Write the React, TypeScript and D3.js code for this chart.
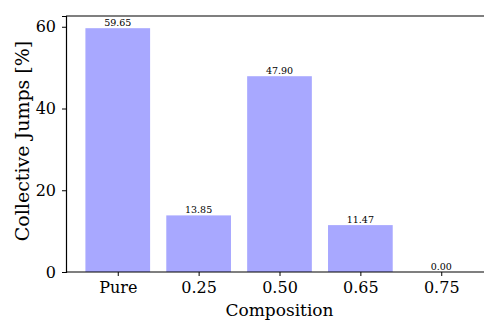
import React, { useRef, useEffect } from 'react';
import * as d3 from 'd3';

const categories = ['Pure', '0.25', '0.50', '0.65', '0.75'];
const values = [59.65, 13.85, 47.9, 11.47, 0.0];
const yTicks = [0, 20, 40, 60];

export default function App() {
  const ref = useRef<SVGSVGElement>(null);

  useEffect(() => {
    const svg = d3.select(ref.current);
    svg.selectAll('*').remove();

    const width = 484;
    const height = 320;
    const margin = { top: 16, right: -9, bottom: 48, left: 66 };
    const font = 'DejaVu Serif';

    const x = d3
      .scaleLinear()
      .domain([-0.64, categories.length - 1 + 0.64])
      .range([margin.left, width - margin.right]);

    const y = d3
      .scaleLinear()
      .domain([0, d3.max(values)! * 1.05])
      .range([height - margin.bottom, margin.top]);

    const bw = x(0.8) - x(0);

    // bars
    svg
      .selectAll('.bar')
      .data(values)
      .join('rect')
      .attr('class', 'bar')
      .attr('x', (d, i) => x(i) - bw / 2)
      .attr('y', d => y(d))
      .attr('width', bw)
      .attr('height', d => y(0) - y(d))
      .attr('fill', '#a8a8ff');

    // value labels
    svg
      .selectAll('.lbl')
      .data(values)
      .join('text')
      .attr('class', 'lbl')
      .attr('x', (d, i) => x(i))
      .attr('y', d => y(d) - 2)
      .attr('text-anchor', 'middle')
      .attr('font-family', font)
      .attr('font-size', 9.5)
      .text(d => d.toFixed(2));

    // x axis
    const xAxis = svg
      .append('g')
      .attr('transform', `translate(0,${y(0)})`)
      .call(
        d3
          .axisBottom(x)
          .tickValues(d3.range(categories.length))
          .tickFormat((d: any) => categories[d])
          .tickSize(4)
          .tickPadding(6)
      );
    xAxis.select('.domain').remove();
    xAxis.append('line').attr('x1', margin.left).attr('x2', width).attr('stroke', 'black').attr('stroke-width', 1.2);
    xAxis.selectAll('text').attr('font-family', font).attr('font-size', 16).attr('fill', 'black');

    // y axis
    const yAxis = svg
      .append('g')
      .attr('transform', `translate(${margin.left},0)`)
      .call(d3.axisLeft(y).tickValues(yTicks).tickSize(4).tickPadding(6));
    yAxis.select('.domain').attr('stroke-width', 1.2);
    yAxis.selectAll('text').attr('font-family', font).attr('font-size', 16).attr('fill', 'black');

    // top spine
    svg
      .append('line')
      .attr('x1', margin.left)
      .attr('x2', width)
      .attr('y1', margin.top)
      .attr('y2', margin.top)
      .attr('stroke', 'black')
      .attr('stroke-width', 1.2);

    // axis labels
    svg
      .append('text')
      .attr('x', x(2))
      .attr('y', 316)
      .attr('text-anchor', 'middle')
      .attr('font-family', font)
      .attr('font-size', 17)
      .text('Composition');

    svg
      .append('text')
      .attr('transform', `translate(29,141) rotate(-90)`)
      .attr('text-anchor', 'middle')
      .attr('font-family', font)
      .attr('font-size', 19)
      .text('Collective Jumps [%]');
  }, []);

  return (
    <svg
      ref={ref}
      width={484}
      height={320}
      style={{ position: 'absolute', left: 0, top: 0, background: 'white' }}
    />
  );
}
